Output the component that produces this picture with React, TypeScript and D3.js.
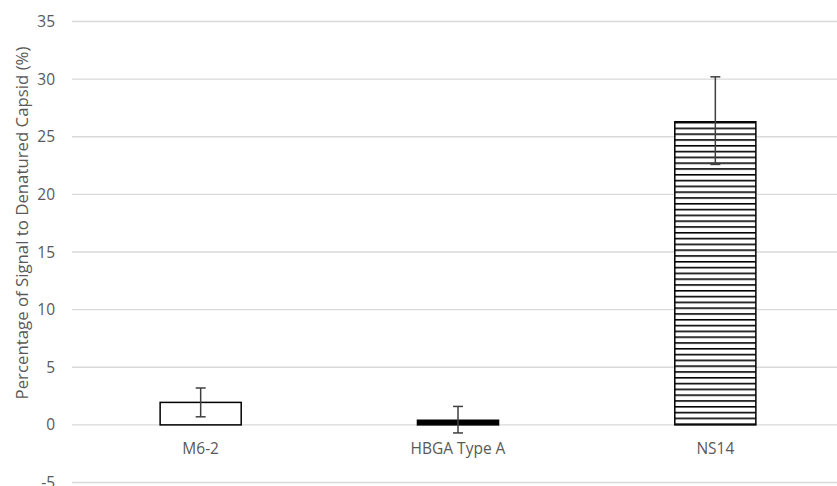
import React, { useEffect, useRef } from 'react';
import * as d3 from 'd3';

// data
const categories = ['M6-2', 'HBGA Type A', 'NS14'];
const values = [1.95, 0.4, 26.3];
const errLow = [0.7, -0.7, 22.6];
const errHigh = [3.2, 1.6, 30.2];
const fills = ['white', 'black', 'url(#hstripes)'];
const yTicks = [-5, 0, 5, 10, 15, 20, 25, 30, 35];

const W = 837;
const H = 486;
const font = '"Open Sans", sans-serif';

export default function App() {
  const ref = useRef<SVGSVGElement>(null);

  useEffect(() => {
    const svg = d3.select(ref.current);
    svg.selectAll('*').remove();

    const y = d3.scaleLinear().domain([-5, 35]).range([482.5, 21.5]);
    const x = d3.scaleBand().domain(categories).range([72, 844]).paddingInner(0.685).paddingOuter(0.3425);

    // stripe pattern for NS14
    const defs = svg.append('defs');
    const pat = defs.append('pattern')
      .attr('id', 'hstripes')
      .attr('patternUnits', 'userSpaceOnUse')
      .attr('width', 8)
      .attr('height', 5.8)
      .attr('y', y(values[2]));
    pat.append('rect').attr('width', 8).attr('height', 5.8).attr('fill', 'white');
    pat.append('line')
      .attr('x1', 0).attr('x2', 8)
      .attr('y1', 0.8).attr('y2', 0.8)
      .attr('stroke', 'black')
      .attr('stroke-width', 1.6);

    // gridlines
    svg.selectAll('grid')
      .data(yTicks)
      .enter()
      .append('line')
      .attr('x1', 72)
      .attr('x2', W)
      .attr('y1', d => y(d))
      .attr('y2', d => y(d))
      .attr('stroke', '#d9d9d9')
      .attr('stroke-width', 1.3);

    // tick labels
    svg.selectAll('ylabels')
      .data(yTicks)
      .enter()
      .append('text')
      .attr('x', 55)
      .attr('y', d => y(d) + 5.5)
      .attr('text-anchor', 'end')
      .attr('font-family', font)
      .attr('font-size', 15.5)
      .attr('fill', '#595959')
      .text(d => d);

    // bars
    svg.selectAll('bars')
      .data(categories)
      .enter()
      .append('rect')
      .attr('x', d => x(d)!)
      .attr('width', x.bandwidth())
      .attr('y', (d, i) => y(Math.max(values[i], 0)))
      .attr('height', (d, i) => Math.abs(y(values[i]) - y(0)))
      .attr('fill', (d, i) => fills[i])
      .attr('stroke', 'black')
      .attr('stroke-width', 1.5);

    // error bars
    const cx = (d: string) => x(d)! + x.bandwidth() / 2;
    const eb = svg.append('g').attr('stroke', '#404040').attr('stroke-width', 1.5);
    categories.forEach((c, i) => {
      eb.append('line').attr('x1', cx(c)).attr('x2', cx(c)).attr('y1', y(errLow[i])).attr('y2', y(errHigh[i]));
      [errLow[i], errHigh[i]].forEach(v => {
        eb.append('line').attr('x1', cx(c) - 5).attr('x2', cx(c) + 5).attr('y1', y(v)).attr('y2', y(v));
      });
    });

    // category labels
    svg.selectAll('xlabels')
      .data(categories)
      .enter()
      .append('text')
      .attr('x', d => cx(d))
      .attr('y', 454)
      .attr('text-anchor', 'middle')
      .attr('font-family', font)
      .attr('font-size', 15.5)
      .attr('fill', '#595959')
      .text(d => d);

    // axis title
    svg.append('text')
      .attr('transform', `translate(28, 223) rotate(-90)`)
      .attr('text-anchor', 'middle')
      .attr('font-family', font)
      .attr('font-size', 16.8)
      .attr('fill', '#595959')
      .text('Percentage of Signal to Denatured Capsid (%)');
  }, []);

  return (
    <svg ref={ref} width={W} height={H} style={{ position: 'absolute', left: 0, top: 0, background: 'white' }} />
  );
}
